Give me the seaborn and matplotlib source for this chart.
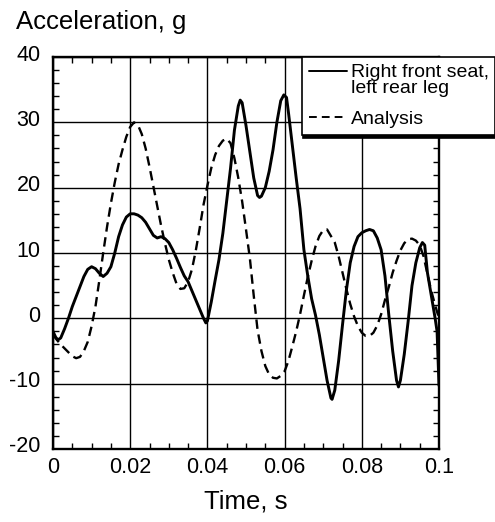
import numpy as np
import pandas as pd
import matplotlib
matplotlib.use("Agg")
import matplotlib.pyplot as plt
import matplotlib.transforms as mtransforms
from matplotlib.ticker import MultipleLocator
from matplotlib.lines import Line2D
from matplotlib.legend_handler import HandlerLine2D
import seaborn as sns

# ---------------- data ----------------
time_seat = [0.000, 0.0007, 0.0013, 0.002, 0.003, 0.004, 0.005, 0.0065, 0.008, 0.009,
             0.010, 0.011, 0.012, 0.013, 0.014, 0.015, 0.016, 0.017, 0.018, 0.019,
             0.020, 0.021, 0.022, 0.023, 0.024, 0.025, 0.026, 0.027, 0.028, 0.029,
             0.030, 0.031, 0.032, 0.033, 0.034, 0.035, 0.036, 0.037, 0.038, 0.039,
             0.0396, 0.040, 0.041, 0.042, 0.043, 0.044, 0.045, 0.046, 0.047, 0.048,
             0.0485, 0.049, 0.050, 0.051, 0.052, 0.053, 0.0535, 0.054, 0.055, 0.056,
             0.057, 0.058, 0.059, 0.0598, 0.0605, 0.061, 0.062, 0.063, 0.064, 0.065,
             0.066, 0.067, 0.068, 0.069, 0.070, 0.071, 0.072, 0.0723, 0.073, 0.074,
             0.075, 0.076, 0.077, 0.078, 0.079, 0.080, 0.081, 0.082, 0.083, 0.084,
             0.085, 0.086, 0.087, 0.088, 0.089, 0.0895, 0.090, 0.091, 0.092, 0.093,
             0.094, 0.095, 0.0957, 0.0963, 0.097, 0.098, 0.099, 0.0995, 0.100]
accel_seat = [-2.0, -2.9, -3.3, -3.0, -1.6, 0.0, 1.8, 4.1, 6.4, 7.5,
              7.9, 7.6, 6.9, 6.4, 6.9, 7.9, 10.0, 12.5, 14.3, 15.5,
              16.0, 16.0, 15.8, 15.4, 14.7, 13.7, 12.7, 12.3, 12.5, 12.2,
              11.6, 10.5, 9.2, 7.8, 6.5, 5.6, 4.2, 2.8, 1.4, 0.0,
              -0.7, -0.4, 2.5, 5.8, 9.0, 13.0, 18.0, 23.0, 28.8, 32.5,
              33.4, 33.0, 29.5, 25.5, 21.5, 18.8, 18.5, 18.7, 20.0, 22.5,
              25.8, 30.0, 33.3, 34.2, 33.8, 31.5, 26.5, 21.5, 16.8, 10.5,
              6.5, 3.0, 0.5, -2.5, -6.0, -9.5, -12.2, -12.4, -11.0, -6.5,
              -1.0, 4.3, 8.5, 11.0, 12.5, 13.1, 13.4, 13.6, 13.4, 12.3,
              10.5, 6.5, 0.5, -5.0, -9.5, -10.5, -9.5, -5.5, -0.5, 5.0,
              8.5, 10.8, 11.6, 11.2, 7.0, 3.5, 0.0, -2.0, -10.3]

time_analysis = [0.000, 0.001, 0.002, 0.003, 0.004, 0.005, 0.006, 0.007, 0.008, 0.009,
                 0.010, 0.011, 0.012, 0.013, 0.014, 0.015, 0.016, 0.017, 0.018, 0.019,
                 0.020, 0.021, 0.022, 0.023, 0.024, 0.025, 0.026, 0.027, 0.028, 0.029,
                 0.030, 0.031, 0.032, 0.033, 0.034, 0.035, 0.036, 0.037, 0.038, 0.039,
                 0.040, 0.041, 0.042, 0.043, 0.044, 0.045, 0.046, 0.047, 0.048, 0.049,
                 0.050, 0.051, 0.052, 0.053, 0.054, 0.055, 0.056, 0.057, 0.058, 0.059,
                 0.060, 0.061, 0.062, 0.063, 0.064, 0.065, 0.066, 0.067, 0.068, 0.069,
                 0.070, 0.071, 0.072, 0.073, 0.074, 0.075, 0.076, 0.077, 0.078, 0.079,
                 0.080, 0.081, 0.082, 0.083, 0.084, 0.085, 0.086, 0.087, 0.088, 0.089,
                 0.090, 0.091, 0.092, 0.093, 0.094, 0.095, 0.096, 0.097, 0.098, 0.099,
                 0.100]
accel_analysis = [-2.5, -3.3, -4.0, -4.6, -5.2, -5.8, -6.1, -5.9, -5.0, -3.6,
                  -1.2, 1.8, 5.8, 10.0, 14.0, 17.6, 20.8, 23.6, 25.8, 27.8,
                  29.3, 30.0, 29.6, 28.2, 26.0, 23.2, 20.2, 17.2, 14.2, 11.5,
                  9.0, 7.0, 5.3, 4.5, 4.6, 5.6, 7.5, 10.4, 13.8, 17.4,
                  20.3, 23.0, 25.0, 26.4, 27.2, 27.5, 26.8, 24.5, 21.5, 17.9,
                  13.6, 9.2, 3.5, -1.8, -5.0, -7.3, -8.6, -9.1, -9.2, -8.8,
                  -8.1, -6.5, -4.3, -2.0, 0.6, 3.5, 6.3, 8.8, 11.0, 12.6,
                  13.5, 13.6, 12.6, 11.6, 9.5, 7.0, 4.5, 2.2, 0.3, -1.2,
                  -2.2, -2.7, -2.7, -2.2, -1.1, 0.6, 2.8, 4.8, 7.0, 8.8,
                  10.4, 11.5, 12.1, 12.2, 11.9, 11.2, 9.5, 6.8, 4.2, 2.0,
                  0.0]

series_names = ["Right front seat,\nleft rear leg", "Analysis"]
x_ticks = [0, 0.02, 0.04, 0.06, 0.08, 0.1]
x_tick_labels = ["0", "0.02", "0.04", "0.06", "0.08", "0.1"]
y_ticks = [-20, -10, 0, 10, 20, 30, 40]
y_tick_labels = ["-20", "-10", "0", "10", "20", "30", "40"]
title_text = "Acceleration, g"
x_label = "Time, s"

# ---------------- style ----------------
sns.set_theme(style="white")
plt.rcParams["font.family"] = ["Liberation Sans", "DejaVu Sans"]

W, H = 495, 522
fig = plt.figure(figsize=(W / 100, H / 100), dpi=100)
ax = fig.add_axes([53 / W, 1 - 449 / H, 386 / W, 392 / H])

df = pd.concat([
    pd.DataFrame({"t": time_seat, "a": accel_seat, "series": series_names[0]}),
    pd.DataFrame({"t": time_analysis, "a": accel_analysis, "series": series_names[1]}),
], ignore_index=True)

lw_solid = 2.1
lw_dash = 1.7
dash_pat = (4.0, 2.4)
sns.lineplot(data=df, x="t", y="a", style="series", style_order=series_names,
             size="series", size_order=series_names,
             sizes={series_names[0]: lw_solid, series_names[1]: lw_dash},
             dashes={series_names[0]: "", series_names[1]: dash_pat},
             color="black", sort=False, estimator=None,
             legend=False, ax=ax, zorder=3)

ax.set_xlim(0, 0.1)
ax.set_ylim(-20, 40)
ax.set_xticks(x_ticks)
ax.set_xticklabels(x_tick_labels)
ax.set_yticks(y_ticks)
ax.set_yticklabels(y_tick_labels)
ax.xaxis.set_minor_locator(MultipleLocator(0.005))
ax.yaxis.set_minor_locator(MultipleLocator(2))
ax.tick_params(which="both", direction="in", top=True, right=True,
               bottom=True, left=True, colors="black")
ax.tick_params(which="major", length=0, labelsize=15.5)
ax.tick_params(axis="x", which="major", pad=6)
ax.tick_params(axis="y", which="major", pad=9)
ax.tick_params(which="minor", length=4, width=1)
ax.grid(True, which="major", color="black", linewidth=1.0)
ax.grid(False, which="minor")
for s in ax.spines.values():
    s.set_linewidth(1.7)
    s.set_color("black")
    s.set_visible(True)

# shift y tick labels slightly upward as in reference
offset = mtransforms.ScaledTranslation(0, 4.5 / 100, fig.dpi_scale_trans)
for lab in ax.get_yticklabels():
    lab.set_transform(lab.get_transform() + offset)

ax.set_ylabel("")
ax.set_xlabel(x_label, fontsize=18.5, color="black")
ax.xaxis.set_label_coords(0.5, -(490 - 449) / 392)

fig.text(16 / W, 1 - 29 / H, title_text, fontsize=18.5, ha="left",
         va="baseline", color="black")


# ---------------- legend ----------------
class FirstLineHandler(HandlerLine2D):
    def create_artists(self, legend, orig_handle, xdescent, ydescent,
                       width, height, fontsize, trans):
        arts = super().create_artists(legend, orig_handle, xdescent, ydescent,
                                      width, height, fontsize, trans)
        for a in arts:
            y = np.asarray(a.get_ydata(), dtype=float)
            a.set_ydata(y + 0.44 * fontsize)
        return arts


h1 = Line2D([], [], color="black", linewidth=1.4)
h2 = Line2D([], [], color="black", linewidth=1.4, dashes=(4.0, 2.6))
leg = ax.legend(handles=[h1, h2], labels=series_names, loc="upper left",
                bbox_to_anchor=(302 / W, 1 - 57 / H),
                bbox_transform=fig.transFigure, fontsize=14,
                frameon=True, fancybox=False, edgecolor="black", framealpha=1,
                borderpad=0.35, borderaxespad=0, handlelength=1.95,
                handletextpad=0.2, labelspacing=0.72,
                shadow={"ox": 1, "oy": -2, "facecolor": "black",
                        "edgecolor": "black", "alpha": 1},
                handler_map={h1: FirstLineHandler()})
leg.get_frame().set_linewidth(1.2)
leg.get_texts()[0].set_linespacing(0.9)
leg.set_zorder(5)
for t in leg.get_texts():
    t.set_color("black")

fig.savefig("out.png", dpi=100)
